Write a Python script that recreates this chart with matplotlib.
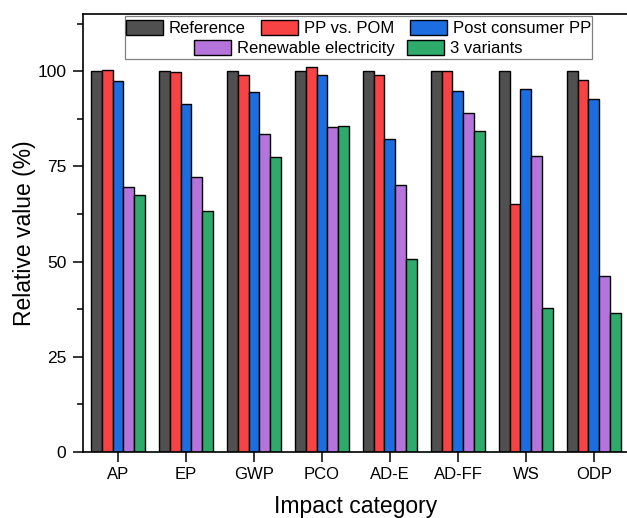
"""Grouped bar chart of relative impact values per category."""
import numpy as np
import matplotlib
matplotlib.use("Agg")
import matplotlib.pyplot as plt
from matplotlib.patches import Rectangle

categories = ["AP", "EP", "GWP", "PCO", "AD-E", "AD-FF", "WS", "ODP"]
series_names = ["Reference", "PP vs. POM", "Post consumer PP",
                "Renewable electricity", "3 variants"]
reference = [100, 100, 100, 100, 100, 100, 100, 100]
pp_vs_pom = [100.3, 99.7, 99.1, 101.0, 99.0, 100, 65.1, 97.6]
post_consumer = [97.4, 91.4, 94.6, 99.1, 82.1, 94.9, 95.2, 92.8]
renewable = [69.5, 72.1, 83.4, 85.3, 70.0, 89.1, 77.6, 46.3]
three_variants = [67.5, 63.3, 77.4, 85.6, 50.8, 84.2, 37.9, 36.6]

colors = ["#505050", "#f74343", "#1c6ddf", "#b474dc", "#2eab6a"]

plt.rcParams["font.family"] = ["Liberation Sans", "DejaVu Sans"]

fig = plt.figure(figsize=(6.27, 5.18), dpi=100)
ax = fig.add_axes([0.1324, 0.1274, 0.8706, 0.8456])

all_series = [reference, pp_vs_pom, post_consumer, renewable, three_variants]
x = np.arange(len(categories))
width = 0.16
handles = []
for i, (name, vals) in enumerate(zip(series_names, all_series)):
    b = ax.bar(x + (i - 2) * width, vals, width, color=colors[i],
               edgecolor="black", linewidth=1.0, label=name)
    handles.append(b)

ax.set_xlim(-0.515, 7.515)
ax.set_ylim(0, 115)
ax.set_xticks(x)
ax.set_xticklabels(categories, fontsize=12)
ax.set_yticks([0, 25, 50, 75, 100])
ax.set_yticks(np.arange(12.5, 115, 25), minor=True)
ax.tick_params(axis="y", labelsize=12.5, length=7, width=1.1, pad=5)
ax.tick_params(axis="y", which="minor", length=4, width=1.1)
ax.tick_params(axis="x", length=7, width=1.1, pad=4)
for s in ax.spines.values():
    s.set_linewidth(1.2)

ax.set_xlabel("Impact category", fontsize=16.5, labelpad=9)
ax.set_ylabel("Relative value (%)", fontsize=16.5, labelpad=1)

# legend: two centered rows inside one box
leg_kw = dict(frameon=False, fontsize=12, handlelength=2.2, handleheight=1.05,
              handletextpad=0.36, borderpad=0.0, borderaxespad=0.0)
leg1 = fig.legend(handles=handles[:3], ncol=3, loc="center",
                  bbox_to_anchor=(0.5718, 0.946), columnspacing=0.95, **leg_kw)
leg2 = fig.legend(handles=handles[3:], ncol=2, loc="center",
                  bbox_to_anchor=(0.5718, 0.907), columnspacing=0.75, **leg_kw)
box = Rectangle((125 / 627, 1 - 59 / 518), 467 / 627, 43 / 518,
                transform=fig.transFigure, fill=True, facecolor="white",
                edgecolor="#808080", linewidth=0.9, zorder=2)
fig.patches.append(box)
leg1.set_zorder(3)
leg2.set_zorder(3)

fig.savefig("out.png", dpi=100)
